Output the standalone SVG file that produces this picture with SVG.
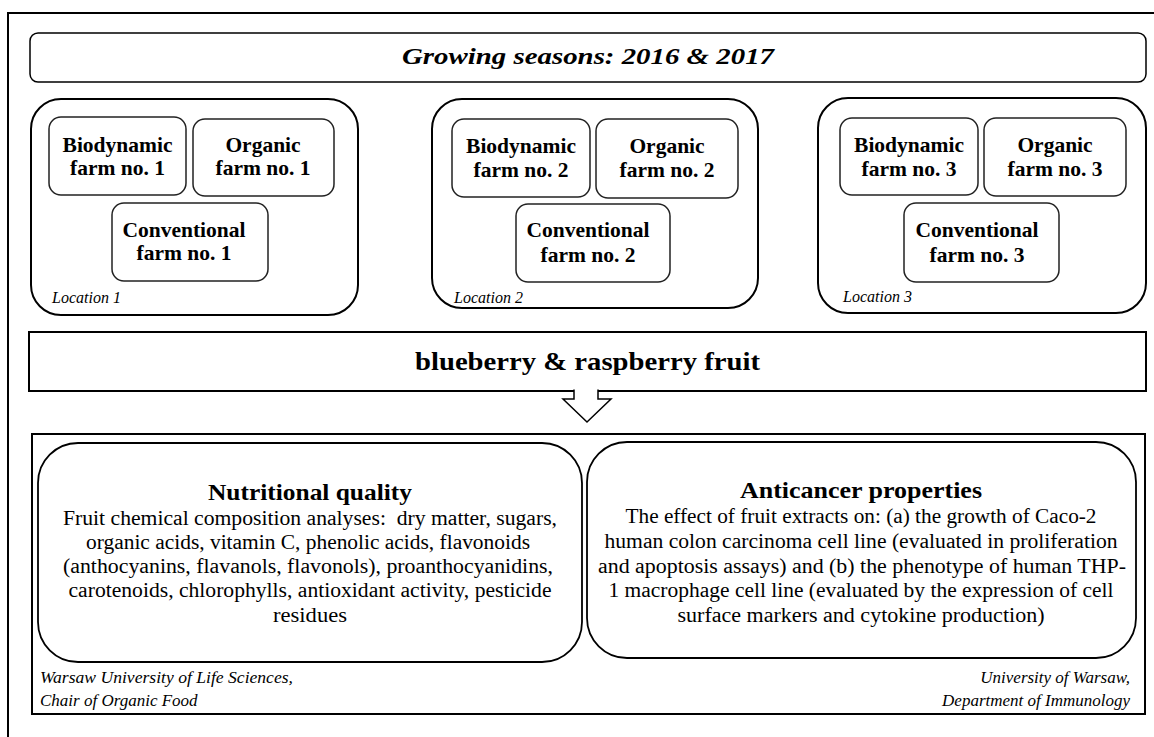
<svg xmlns="http://www.w3.org/2000/svg" width="1154" height="737" viewBox="0 0 1154 737">
<style>
.f{font-family:"Liberation Serif","Times New Roman",serif;fill:#000}
.b{font-weight:bold}
.i{font-style:italic}
.loc{fill:#fff;stroke:#000;stroke-width:2}
.farm{fill:#fff;stroke:#222;stroke-width:1.5}
.fn{font-size:21.5px;font-weight:bold;text-anchor:middle}
.lt{font-size:16px;font-style:italic}
.body{font-size:20px;text-anchor:middle}
.ttl{font-size:23px;font-weight:bold;text-anchor:middle}
.ft{font-size:17px;font-style:italic}
</style>
<rect width="1154" height="737" fill="#fff"/>
<path d="M8,737 V13 H1154" fill="none" stroke="#000" stroke-width="2"/>

<g id="seasons">
<rect x="30" y="33" width="1116" height="49" rx="8" fill="#fff" stroke="#000" stroke-width="1.5"/>
<text class="f b i" x="588" y="64" font-size="24" text-anchor="middle" textLength="372" lengthAdjust="spacingAndGlyphs">Growing seasons: 2016 &amp; 2017</text>
</g>

<g id="location1">
<rect class="loc" x="31" y="99" width="327" height="216" rx="30"/>
<text class="f lt" x="52" y="303">Location 1</text>
</g>
<g id="bio1">
<rect class="farm" x="49" y="117" width="137" height="78" rx="12"/>
<text class="f fn" x="117.5" y="152">Biodynamic</text>
<text class="f fn" x="117.5" y="175">farm no. 1</text>
</g>
<g id="org1">
<rect class="farm" x="193" y="119" width="141" height="77" rx="12"/>
<text class="f fn" x="263" y="152">Organic</text>
<text class="f fn" x="263" y="175">farm no. 1</text>
</g>
<g id="conv1">
<rect class="farm" x="112" y="203" width="156" height="78" rx="12"/>
<text class="f fn" x="184" y="237">Conventional</text>
<text class="f fn" x="184" y="260">farm no. 1</text>
</g>

<g id="location2">
<rect class="loc" x="432" y="99" width="326" height="209" rx="30"/>
<text class="f lt" x="454" y="303">Location 2</text>
</g>
<g id="bio2">
<rect class="farm" x="452" y="119" width="138" height="78" rx="12"/>
<text class="f fn" x="521" y="153">Biodynamic</text>
<text class="f fn" x="521" y="177">farm no. 2</text>
</g>
<g id="org2">
<rect class="farm" x="596" y="119" width="142" height="79" rx="12"/>
<text class="f fn" x="667" y="153">Organic</text>
<text class="f fn" x="667" y="177">farm no. 2</text>
</g>
<g id="conv2">
<rect class="farm" x="516" y="204" width="154" height="78" rx="12"/>
<text class="f fn" x="588" y="237">Conventional</text>
<text class="f fn" x="588" y="262">farm no. 2</text>
</g>

<g id="location3">
<rect class="loc" x="818" y="98" width="328" height="215" rx="30"/>
<text class="f lt" x="843" y="302">Location 3</text>
</g>
<g id="bio3">
<rect class="farm" x="840" y="118" width="138" height="77" rx="12"/>
<text class="f fn" x="909" y="152">Biodynamic</text>
<text class="f fn" x="909" y="176">farm no. 3</text>
</g>
<g id="org3">
<rect class="farm" x="984" y="118" width="142" height="78" rx="12"/>
<text class="f fn" x="1055" y="152">Organic</text>
<text class="f fn" x="1055" y="176">farm no. 3</text>
</g>
<g id="conv3">
<rect class="farm" x="904" y="203" width="155" height="79" rx="12"/>
<text class="f fn" x="977" y="237">Conventional</text>
<text class="f fn" x="977" y="262">farm no. 3</text>
</g>

<g id="fruit">
<rect x="29" y="332" width="1117" height="59" fill="#fff" stroke="#000" stroke-width="2"/>
<text class="f b" x="587.5" y="370" font-size="25" text-anchor="middle" textLength="345" lengthAdjust="spacingAndGlyphs">blueberry &amp; raspberry fruit</text>
</g>

<g id="connectors">
<path d="M574,389.5 V399 H563 L587,422 L611,399 H598 V389.5" fill="#fff" stroke="#000" stroke-width="1.5" stroke-linejoin="miter"/>
</g>

<g id="analyses">
<rect x="32" y="434" width="1113" height="280" fill="#fff" stroke="#000" stroke-width="2"/>
<text class="f ft" x="40" y="683" textLength="253" lengthAdjust="spacingAndGlyphs">Warsaw University of Life Sciences,</text>
<text class="f ft" x="40" y="706">Chair of Organic Food</text>
<text class="f ft" x="1130" y="683" text-anchor="end">University of Warsaw,</text>
<text class="f ft" x="1130" y="706" text-anchor="end">Department of Immunology</text>
</g>

<g id="nutritional">
<rect x="38" y="443" width="544" height="219" rx="40" fill="#fff" stroke="#000" stroke-width="1.8"/>
<text class="f ttl" x="310" y="500" textLength="204" lengthAdjust="spacingAndGlyphs">Nutritional quality</text>
<text class="f body" x="310" y="525" textLength="494" lengthAdjust="spacingAndGlyphs">Fruit chemical composition analyses:&#160; dry matter, sugars,</text>
<text class="f body" x="308" y="549" textLength="444" lengthAdjust="spacingAndGlyphs">organic acids, vitamin C, phenolic acids, flavonoids</text>
<text class="f body" x="308" y="573" textLength="490" lengthAdjust="spacingAndGlyphs">(anthocyanins, flavanols, flavonols), proanthocyanidins,</text>
<text class="f body" x="310" y="597" textLength="483" lengthAdjust="spacingAndGlyphs">carotenoids, chlorophylls, antioxidant activity, pesticide</text>
<text class="f body" x="310" y="622" textLength="74" lengthAdjust="spacingAndGlyphs">residues</text>
</g>

<g id="anticancer">
<rect x="587" y="442" width="549" height="216" rx="40" fill="#fff" stroke="#000" stroke-width="1.8"/>
<text class="f ttl" x="861" y="498" textLength="242" lengthAdjust="spacingAndGlyphs">Anticancer properties</text>
<text class="f body" x="861" y="523" textLength="471" lengthAdjust="spacingAndGlyphs">The effect of fruit extracts on: (a) the growth of Caco-2</text>
<text class="f body" x="861" y="548" textLength="513" lengthAdjust="spacingAndGlyphs">human colon carcinoma cell line (evaluated in proliferation</text>
<text class="f body" x="862" y="573" textLength="528" lengthAdjust="spacingAndGlyphs">and apoptosis assays) and (b) the phenotype of human THP-</text>
<text class="f body" x="861" y="597" textLength="505" lengthAdjust="spacingAndGlyphs">1 macrophage cell line (evaluated by the expression of cell</text>
<text class="f body" x="861" y="622" textLength="367" lengthAdjust="spacingAndGlyphs">surface markers and cytokine production)</text>
</g>
</svg>
